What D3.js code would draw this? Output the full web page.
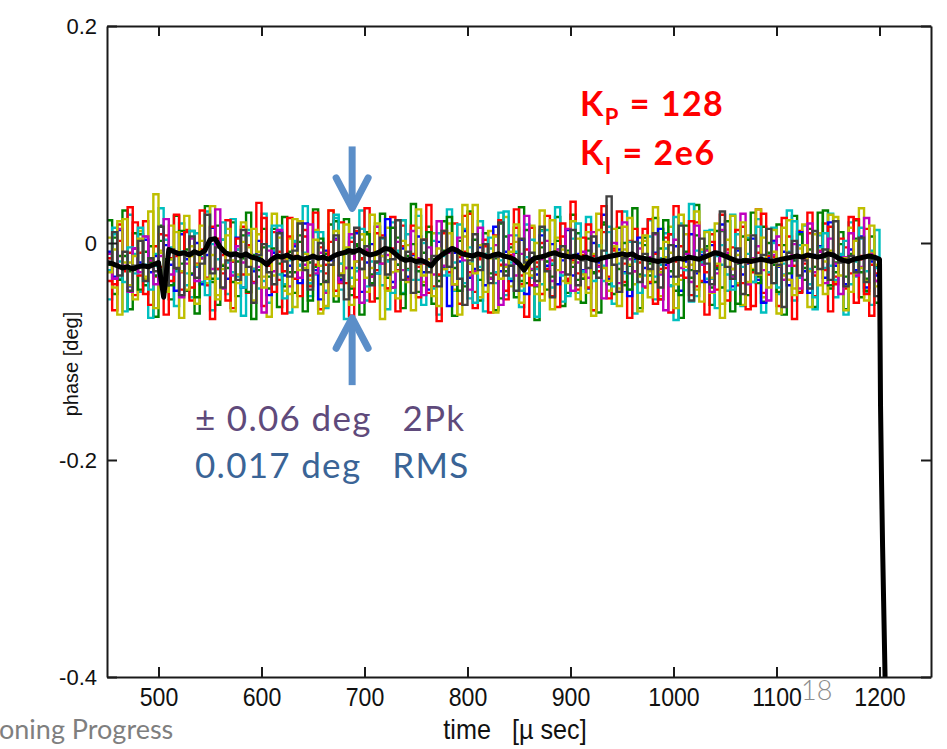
<!DOCTYPE html>
<html lang="en">
<head>
<meta charset="utf-8">
<title>Phase noise</title>
<script src="https://d3js.org/d3.v7.min.js"></script>
<style>
  body { margin: 0; background: #fff; }
  .axis path, .axis line { stroke: #1a1a1a; stroke-width: 2; }
  .axis text { font-family: "Liberation Sans", Arial, sans-serif; fill: #111; }
  .trace { fill: none; stroke-width: 2.4; }
  .mean { fill: none; stroke: #000; stroke-width: 5; stroke-linejoin: round; }
  .note { font-family: Lato, "Open Sans", sans-serif; }
</style>
</head>
<body>
<div id="container"></div>
<script>
const w = 947, h = 749;

// sampling of the traces (µs)
const sampleStart = 450, sampleStep = 5;

const xTicks = [500, 600, 700, 800, 900, 1000, 1100, 1200];
const yTicks = [-0.4, -0.2, 0, 0.2];

// colour of each pulse, in drawing order
const traceColors = ["#008000", "#00bfbf", "#ff0000", "#bfbf00",
                     "#0000ff", "#008000", "#ff0000", "#00bfbf", "#bf00bf", "#bfbf00", "#404040"];

// phase [deg] per pulse, one value every 5 µs from 450 to 1200 µs
const trace1 = [
  -0.008,-0.031,0.012,-0.022,-0.040,-0.005,-0.018,0.003,-0.027,-0.012,-0.035,-0.002,-0.020,-0.044,0.008,
  -0.015,-0.029,0.000,-0.038,-0.011,0.014,-0.024,-0.006,-0.033,-0.017,0.005,-0.041,-0.013,-0.026,0.002,
  -0.019,-0.048,-0.009,0.010,-0.030,-0.021,-0.003,-0.037,0.018,-0.014,-0.025,-0.052,-0.007,-0.016,0.004,
  -0.034,-0.010,-0.023,0.009,-0.045,-0.018,-0.001,-0.028,-0.012,0.022,-0.036,-0.020,-0.005,-0.031,-0.011,
  0.006,-0.027,-0.043,-0.015,0.001,-0.022,-0.058,-0.009,-0.017,0.011,-0.032,-0.024,-0.004,-0.039,-0.013,
  0.015,-0.026,-0.008,-0.035,-0.019,0.003,-0.047,-0.014,-0.029,0.007,-0.021,-0.001,-0.038,-0.016,0.012,
  -0.030,-0.010,-0.025,-0.042,0.000,-0.018,0.026,-0.033,-0.012,-0.006,-0.027,-0.049,-0.015,0.005,-0.023,
  -0.037,-0.009,0.013,-0.020,-0.031,-0.003,-0.044,-0.017,0.008,-0.028,-0.011,-0.036,-0.002,-0.024,0.017,
  -0.013,-0.040,-0.007,-0.029,-0.019,0.004,-0.034,-0.055,-0.014,0.002,-0.022,-0.008,-0.039,-0.016,0.010,
  -0.026,-0.046,-0.011,-0.003,-0.032,0.019,-0.021,-0.012,-0.038,-0.006,-0.025,0.006,-0.041,-0.017,-0.030,
  -0.064
];
const trace2 = [
  -0.020,0.005,-0.034,-0.012,-0.026,0.009,-0.043,-0.008,-0.018,-0.030,0.002,-0.015,-0.039,-0.024,0.011,
  -0.006,-0.028,-0.050,-0.014,-0.002,-0.033,0.016,-0.021,-0.009,-0.036,-0.017,0.007,-0.045,-0.011,-0.025,
  -0.004,-0.031,0.013,-0.019,-0.040,-0.008,-0.027,0.001,-0.016,-0.053,-0.022,0.004,-0.035,-0.013,0.020,
  -0.029,-0.010,-0.042,-0.003,-0.024,0.008,-0.037,-0.018,-0.006,-0.032,0.014,-0.020,-0.047,-0.012,-0.001,
  -0.026,-0.039,0.010,-0.015,-0.030,-0.007,0.024,-0.023,-0.044,-0.011,-0.019,0.003,-0.034,-0.002,-0.028,
  -0.014,-0.051,0.006,-0.021,-0.009,-0.035,0.012,-0.025,-0.040,-0.004,-0.017,-0.031,0.002,-0.012,-0.046,
  -0.022,0.009,-0.033,-0.007,-0.027,-0.016,0.017,-0.038,-0.010,-0.024,0.000,-0.043,-0.013,-0.029,0.005,
  -0.019,-0.036,-0.005,0.021,-0.026,-0.014,-0.048,-0.008,-0.032,0.007,-0.018,-0.003,-0.041,-0.023,0.011,
  -0.011,-0.030,-0.056,-0.015,0.003,-0.025,-0.037,0.015,-0.009,-0.020,-0.045,-0.002,-0.028,-0.016,0.008,
  -0.034,-0.006,-0.022,0.028,-0.013,-0.039,-0.018,-0.001,-0.031,-0.010,0.004,-0.027,-0.044,-0.012,-0.021,
  -0.052
];
const trace3 = [
  -0.014,-0.038,0.002,-0.025,-0.009,0.019,-0.030,-0.047,-0.016,-0.003,-0.022,0.007,-0.035,-0.012,-0.027,
  0.010,-0.041,-0.019,-0.006,-0.032,0.015,-0.024,-0.011,-0.053,-0.017,0.004,-0.029,-0.002,-0.036,-0.013,
  0.023,-0.021,-0.045,-0.008,-0.026,0.006,-0.033,-0.015,0.012,-0.040,-0.020,-0.004,-0.028,0.030,-0.011,
  -0.037,-0.023,0.001,-0.050,-0.014,-0.007,-0.031,0.009,-0.019,-0.042,-0.005,-0.025,0.016,-0.034,-0.010,
  -0.022,0.003,-0.046,-0.017,-0.029,0.011,-0.008,-0.038,-0.013,0.025,-0.027,-0.060,-0.015,-0.003,-0.033,
  0.007,-0.020,-0.044,-0.011,0.014,-0.030,-0.006,-0.039,-0.018,0.000,-0.024,-0.049,-0.009,0.018,-0.035,
  -0.016,-0.028,0.005,-0.041,-0.012,-0.021,0.034,-0.031,-0.007,-0.045,-0.019,0.002,-0.026,-0.014,0.013,
  -0.036,-0.010,-0.052,-0.023,0.008,-0.017,-0.003,-0.032,0.020,-0.040,-0.015,-0.027,0.001,-0.043,-0.011,
  -0.006,-0.024,0.012,-0.037,-0.018,-0.058,-0.009,0.027,-0.029,-0.013,-0.002,-0.034,0.006,-0.021,-0.046,
  -0.015,0.009,-0.030,-0.008,-0.025,0.015,-0.038,-0.017,-0.004,-0.028,0.022,-0.012,-0.047,-0.020,-0.035,
  -0.066
];
const trace4 = [
  -0.025,0.008,-0.017,-0.036,-0.004,-0.028,0.014,-0.020,-0.043,-0.010,-0.031,0.003,-0.015,-0.026,-0.008,
  -0.039,0.011,-0.022,-0.013,-0.048,-0.001,-0.033,0.019,-0.018,-0.027,-0.006,-0.041,0.007,-0.024,-0.012,
  -0.035,-0.003,0.016,-0.029,-0.051,-0.016,0.002,-0.021,-0.009,-0.037,0.010,-0.026,-0.044,-0.014,0.026,
  -0.019,-0.005,-0.032,-0.023,0.013,-0.040,-0.011,-0.028,0.004,-0.017,-0.046,-0.007,0.021,-0.025,-0.015,
  -0.034,0.000,-0.020,-0.042,0.009,-0.012,-0.030,-0.018,0.017,-0.037,-0.004,-0.055,-0.022,-0.010,0.005,
  -0.027,-0.016,0.029,-0.033,-0.008,-0.044,-0.013,0.003,-0.024,-0.038,0.012,-0.019,-0.006,-0.030,-0.049,
  -0.011,0.018,-0.026,-0.015,-0.035,-0.002,-0.021,0.010,-0.040,-0.009,-0.028,0.001,-0.017,-0.046,-0.013,
  0.006,-0.031,-0.020,-0.005,-0.039,0.024,-0.014,-0.025,-0.054,-0.007,-0.018,0.011,-0.033,-0.012,-0.002,
  -0.029,-0.043,0.008,-0.022,-0.010,-0.036,0.015,-0.016,-0.027,0.000,-0.041,-0.019,-0.008,0.020,-0.032,
  -0.013,-0.024,-0.050,-0.004,0.009,-0.021,-0.034,-0.011,0.002,-0.038,-0.017,0.014,-0.026,-0.007,-0.023,
  -0.058
];
const trace5 = [
  -0.010,-0.033,0.013,-0.021,-0.045,-0.005,-0.027,0.006,-0.016,-0.038,-0.012,0.022,-0.029,-0.008,-0.050,
  -0.019,0.004,-0.035,-0.014,0.000,-0.024,0.031,-0.042,-0.011,-0.030,-0.003,-0.018,0.009,-0.037,-0.022,
  -0.064,-0.007,-0.026,0.012,-0.015,-0.040,-0.001,-0.032,-0.020,0.017,-0.028,-0.009,-0.046,-0.013,0.003,
  -0.036,-0.023,0.008,-0.017,-0.055,-0.006,-0.031,0.015,-0.019,-0.011,-0.041,0.001,-0.025,-0.034,0.011,
  -0.014,-0.048,-0.004,-0.029,0.020,-0.021,-0.009,-0.038,0.005,-0.016,-0.043,-0.026,0.014,-0.012,-0.033,
  -0.002,-0.057,-0.020,0.007,-0.030,-0.010,0.025,-0.024,-0.039,-0.015,0.002,-0.035,-0.006,-0.027,0.013,
  -0.044,-0.018,-0.008,-0.032,0.010,-0.022,-0.051,-0.012,0.000,-0.037,0.019,-0.015,-0.026,-0.005,-0.040,
  -0.013,0.008,-0.029,-0.062,-0.017,0.003,-0.023,-0.010,-0.036,0.016,-0.020,-0.007,-0.045,-0.028,0.012,
  -0.009,-0.031,-0.018,0.027,-0.038,-0.014,-0.003,-0.025,-0.053,-0.011,0.006,-0.034,-0.021,-0.001,-0.042,
  -0.016,0.018,-0.027,-0.008,-0.037,0.004,-0.019,-0.047,-0.013,0.009,-0.030,-0.022,0.023,-0.010,-0.035,
  -0.060
];
const trace6 = [
  -0.027,-0.006,0.020,-0.018,-0.039,-0.012,0.004,-0.031,-0.022,0.045,-0.009,-0.035,-0.015,0.010,-0.026,
  -0.043,-0.003,-0.020,0.016,-0.033,-0.011,-0.052,-0.024,0.007,-0.016,-0.037,0.001,-0.029,0.013,-0.008,
  -0.041,-0.019,-0.030,0.005,-0.014,-0.047,0.022,-0.025,-0.010,-0.034,0.003,-0.021,-0.058,-0.013,0.011,
  -0.028,-0.004,-0.040,-0.017,0.008,-0.032,-0.023,0.018,-0.012,-0.044,-0.007,-0.026,0.002,-0.036,-0.015,
  0.014,-0.030,-0.020,-0.049,-0.005,-0.024,0.009,-0.038,-0.011,0.035,-0.019,-0.028,-0.002,-0.045,-0.014,
  0.006,-0.033,-0.022,-0.008,0.017,-0.040,-0.016,-0.030,0.000,-0.053,-0.012,0.021,-0.025,-0.006,-0.037,
  -0.018,0.004,-0.029,-0.046,-0.010,0.012,-0.023,-0.035,-0.003,-0.042,0.015,-0.020,-0.013,-0.031,0.007,
  -0.050,-0.017,-0.027,0.001,-0.009,-0.038,0.026,-0.022,-0.014,-0.043,-0.006,0.010,-0.032,-0.019,-0.056,
  0.003,-0.024,-0.011,0.019,-0.036,-0.015,-0.029,0.005,-0.041,-0.008,-0.021,0.014,-0.034,-0.048,-0.012,
  -0.002,-0.026,0.008,-0.039,-0.017,-0.007,0.024,-0.030,-0.014,-0.045,0.002,-0.023,-0.035,0.016,-0.020,
  -0.070
];
const trace7 = [
  -0.018,0.010,-0.030,-0.008,-0.044,-0.021,0.002,-0.035,-0.014,-0.026,0.015,-0.039,-0.006,-0.023,-0.048,
  -0.012,0.006,-0.032,-0.019,0.026,-0.028,-0.004,-0.041,-0.016,-0.009,-0.034,0.012,-0.022,-0.055,-0.011,
  -0.001,-0.027,-0.038,0.009,-0.017,-0.031,-0.007,0.018,-0.025,-0.043,-0.013,0.000,-0.036,-0.020,0.007,
  -0.030,-0.052,-0.010,0.014,-0.024,-0.003,-0.039,-0.017,0.005,-0.029,-0.015,0.021,-0.034,-0.008,-0.046,
  -0.019,0.003,-0.027,-0.012,-0.040,0.011,-0.022,-0.006,-0.033,-0.057,-0.016,0.008,-0.025,-0.001,-0.037,
  -0.013,0.019,-0.030,-0.021,-0.044,0.004,-0.018,-0.009,-0.035,0.015,-0.026,-0.050,-0.011,-0.003,-0.029,
  0.012,-0.039,-0.016,-0.023,0.006,-0.032,-0.007,0.043,-0.020,-0.045,-0.014,-0.028,0.001,-0.036,-0.010,
  -0.024,0.009,-0.041,-0.017,-0.002,-0.031,0.016,-0.013,-0.053,-0.026,0.004,-0.019,-0.038,-0.008,0.029,
  -0.022,-0.033,-0.005,-0.047,-0.015,0.007,-0.028,-0.011,0.013,-0.037,-0.020,-0.059,-0.009,0.002,-0.030,
  -0.016,-0.042,0.011,-0.024,-0.006,-0.034,0.020,-0.018,-0.040,-0.012,-0.027,0.005,-0.036,-0.015,-0.049,
  -0.062
];
const trace8 = [
  0.021,-0.047,-0.012,0.030,-0.061,-0.025,0.008,-0.039,-0.003,-0.068,0.016,-0.030,-0.052,0.025,-0.019,
  -0.044,0.011,-0.065,-0.008,0.034,-0.036,-0.057,0.003,-0.023,0.019,-0.049,-0.014,0.028,-0.070,-0.031,
  0.013,-0.042,-0.005,-0.059,0.024,-0.027,-0.046,0.007,-0.063,-0.018,0.031,-0.038,-0.010,0.017,-0.054,
  -0.033,0.022,-0.048,-0.001,-0.066,0.010,-0.029,-0.051,0.027,-0.016,-0.041,0.005,-0.060,-0.024,0.036,
  -0.045,-0.009,0.015,-0.056,-0.035,0.020,-0.022,-0.067,0.002,-0.040,0.029,-0.013,-0.053,0.009,-0.032,
  -0.062,0.018,-0.026,-0.004,-0.050,0.033,-0.037,-0.015,-0.071,0.012,-0.043,-0.020,0.024,-0.058,-0.007,
  0.026,-0.034,-0.055,0.004,-0.028,-0.064,0.019,-0.011,-0.047,0.014,-0.039,-0.021,0.032,-0.060,-0.002,
  -0.030,0.023,-0.052,-0.017,0.008,-0.044,-0.069,0.016,-0.025,0.035,-0.036,-0.006,-0.057,0.011,-0.041,
  0.020,-0.063,-0.019,0.006,-0.048,0.028,-0.031,-0.054,0.000,-0.037,0.017,-0.066,-0.014,0.025,-0.045,
  -0.023,0.013,-0.059,-0.008,0.030,-0.042,-0.027,0.010,-0.061,-0.016,0.021,-0.050,-0.033,0.006,-0.055,
  -0.072
];
const trace9 = [
  -0.052,0.014,-0.033,-0.063,0.026,-0.010,-0.045,0.006,-0.069,-0.021,0.032,-0.040,-0.004,-0.058,0.018,
  -0.028,-0.050,0.009,-0.036,0.029,-0.062,-0.015,0.003,-0.047,0.022,-0.031,-0.067,0.012,-0.024,-0.042,
  0.027,-0.055,-0.007,0.016,-0.038,-0.064,0.001,-0.020,0.034,-0.049,-0.029,0.010,-0.060,-0.013,0.023,
  -0.043,-0.070,0.005,-0.026,0.030,-0.053,-0.017,0.015,-0.039,-0.061,0.019,-0.009,-0.046,0.008,-0.034,
  0.025,-0.057,-0.022,0.002,-0.066,-0.030,0.031,-0.044,-0.011,0.013,-0.051,-0.027,0.020,-0.063,-0.005,
  -0.037,0.028,-0.048,-0.018,0.007,-0.059,0.017,-0.032,-0.068,0.011,-0.024,-0.041,0.033,-0.054,-0.012,
  0.004,-0.046,-0.028,0.024,-0.062,-0.003,-0.035,0.015,-0.056,-0.019,0.029,-0.043,-0.065,0.000,-0.030,
  0.021,-0.052,-0.014,0.009,-0.040,-0.071,0.018,-0.025,0.036,-0.049,-0.008,-0.033,0.012,-0.060,-0.020,
  -0.044,0.026,-0.016,-0.058,0.005,-0.036,0.022,-0.064,-0.011,0.014,-0.047,-0.029,0.030,-0.053,-0.002,
  0.016,-0.038,-0.061,0.007,-0.023,0.027,-0.050,-0.010,-0.066,0.019,-0.031,0.004,-0.045,-0.057,0.012,
  -0.068
];
const trace10 = [
  -0.035,-0.062,0.017,-0.026,0.033,-0.048,-0.009,0.020,-0.057,-0.031,0.008,-0.066,-0.014,0.026,-0.043,
  0.012,-0.053,-0.021,0.030,-0.039,-0.070,0.004,-0.028,0.021,-0.060,-0.006,0.015,-0.046,-0.024,0.037,
  -0.058,-0.017,0.010,-0.034,-0.065,0.023,-0.012,-0.049,0.006,-0.030,0.028,-0.061,-0.020,0.001,-0.044,
  0.019,-0.037,-0.067,0.011,-0.015,0.032,-0.054,-0.025,0.007,-0.042,0.024,-0.063,-0.003,-0.032,0.016,
  -0.050,-0.019,0.035,-0.040,-0.072,0.009,-0.027,0.018,-0.056,-0.008,0.027,-0.045,-0.013,0.003,-0.064,
  -0.029,0.021,-0.052,-0.001,0.031,-0.038,-0.068,0.014,-0.022,-0.047,0.025,-0.016,-0.059,0.006,-0.033,
  0.038,-0.043,-0.011,0.017,-0.062,-0.026,0.010,-0.051,-0.005,0.029,-0.036,-0.069,0.013,-0.018,-0.041,
  0.022,-0.056,-0.024,0.005,-0.064,0.034,-0.030,-0.010,-0.048,0.019,-0.035,-0.066,0.008,-0.021,0.026,
  -0.053,-0.004,-0.039,0.015,-0.061,-0.027,0.031,-0.046,-0.012,0.002,-0.058,0.023,-0.034,-0.070,0.011,
  -0.019,0.028,-0.049,-0.007,0.018,-0.063,-0.031,0.004,-0.042,0.024,-0.055,-0.015,0.013,-0.067,-0.028,
  -0.074
];
const trace11 = [
  0.005,-0.041,-0.066,0.022,-0.018,-0.052,0.011,-0.033,0.029,-0.060,-0.007,-0.045,0.016,-0.025,-0.069,
  0.025,-0.012,-0.056,0.002,-0.037,0.034,-0.048,-0.020,0.013,-0.063,-0.029,0.019,-0.004,-0.053,0.008,
  -0.031,-0.068,0.027,-0.014,-0.044,0.004,-0.059,0.020,-0.023,-0.039,0.012,-0.065,-0.008,0.030,-0.049,
  -0.019,0.017,-0.057,-0.034,0.003,-0.045,0.026,-0.011,-0.070,0.014,-0.027,-0.051,0.021,-0.002,-0.062,
  0.031,-0.036,-0.015,0.009,-0.058,-0.024,0.018,-0.043,-0.066,0.006,-0.030,0.035,-0.050,-0.010,0.011,
  -0.064,-0.021,0.024,-0.040,0.001,-0.055,-0.028,0.016,-0.047,0.030,-0.017,-0.061,0.005,-0.035,-0.009,
  0.020,-0.052,-0.032,0.010,-0.067,0.027,-0.022,-0.044,0.013,-0.058,-0.006,0.023,-0.038,-0.063,0.002,
  -0.026,0.033,-0.049,-0.013,0.015,-0.060,-0.034,0.008,-0.020,0.029,-0.054,-0.003,-0.046,0.018,-0.069,
  -0.011,0.025,-0.037,-0.057,0.007,-0.024,0.031,-0.050,-0.016,0.012,-0.065,-0.030,0.021,-0.042,-0.005,
  0.017,-0.059,-0.022,0.009,-0.047,0.026,-0.036,-0.013,-0.062,0.014,-0.028,0.032,-0.053,-0.008,-0.040,
  -0.071
];
const traces = [trace8, trace9, trace10, trace11, trace1, trace2, trace3, trace4, trace5, trace6, trace7];

// average of all pulses, same sampling, then the end of the pulse
const meanPhase = [
  -0.018,-0.019,-0.021,-0.023,-0.022,-0.024,-0.022,-0.021,-0.022,-0.020,-0.018,-0.050,-0.006,-0.008,-0.010,
  -0.009,-0.011,-0.008,-0.010,-0.007,0.003,0.004,-0.004,-0.009,-0.011,-0.010,-0.012,-0.010,-0.013,-0.014,
  -0.016,-0.020,-0.015,-0.012,-0.013,-0.011,-0.014,-0.013,-0.015,-0.014,-0.012,-0.014,-0.013,-0.015,-0.012,
  -0.010,-0.009,-0.007,-0.008,-0.006,-0.009,-0.011,-0.010,-0.008,-0.005,-0.006,-0.010,-0.014,-0.016,-0.015,
  -0.017,-0.016,-0.018,-0.021,-0.015,-0.011,-0.008,-0.005,-0.007,-0.010,-0.011,-0.012,-0.010,-0.011,-0.013,
  -0.011,-0.010,-0.012,-0.013,-0.015,-0.019,-0.025,-0.018,-0.014,-0.013,-0.012,-0.010,-0.009,-0.011,-0.012,
  -0.013,-0.012,-0.014,-0.013,-0.015,-0.016,-0.014,-0.013,-0.012,-0.011,-0.010,-0.011,-0.010,-0.013,-0.014,
  -0.015,-0.016,-0.017,-0.016,-0.017,-0.015,-0.014,-0.015,-0.013,-0.014,-0.015,-0.013,-0.011,-0.009,-0.010,
  -0.012,-0.014,-0.016,-0.017,-0.016,-0.017,-0.016,-0.015,-0.016,-0.017,-0.016,-0.015,-0.014,-0.013,-0.012,
  -0.013,-0.011,-0.012,-0.013,-0.012,-0.010,-0.011,-0.014,-0.016,-0.017,-0.015,-0.014,-0.013,-0.012,-0.013,
  -0.015
];
const dropTime = [1201, 1202, 1203, 1204, 1205, 1206];
const dropPhase = [-0.15, -0.22, -0.28, -0.33, -0.38, -0.43];

const svg = d3.select("#container").append("svg")
    .attr("width", w).attr("height", h)
    .style("display", "block");

const x = d3.scaleLinear().domain([450, 1250]).range([107, 931]);
const y = d3.scaleLinear().domain([-0.4, 0.2]).range([677, 26]);

svg.append("clipPath").attr("id", "plot")
  .append("rect")
    .attr("x", x(450)).attr("y", y(0.2))
    .attr("width", x(1250) - x(450)).attr("height", y(-0.4) - y(0.2));

const plot = svg.append("g").attr("clip-path", "url(#plot)");

const traceLine = d3.line()
    .x((d, i) => x(sampleStart + i * sampleStep))
    .y(d => y(d))
    .curve(d3.curveStepAfter);

plot.selectAll("path.trace")
  .data(traces)
  .enter().append("path")
    .attr("class", "trace")
    .attr("stroke", (d, i) => traceColors[i])
    .attr("d", traceLine);

const meanPoints = meanPhase.map((v, i) => [sampleStart + i * sampleStep, v])
    .concat(dropTime.map((t, i) => [t, dropPhase[i]]));

plot.append("path")
    .attr("class", "mean")
    .attr("d", d3.line().x(d => x(d[0])).y(d => y(d[1]))(meanPoints));

// axes: MATLAB style box with inward ticks
const gx = svg.append("g").attr("class", "axis")
    .attr("transform", `translate(0,${y(-0.4)})`)
    .call(d3.axisBottom(x).tickValues(xTicks).tickSizeInner(-10).tickSizeOuter(0).tickPadding(11)
      .tickFormat(d3.format("d")));
gx.selectAll("text").style("font-size", "26px").attr("transform", "scale(0.89,1)");

const gy = svg.append("g").attr("class", "axis")
    .attr("transform", `translate(${x(450)},0)`)
    .call(d3.axisLeft(y).tickValues(yTicks).tickSizeInner(-10).tickSizeOuter(0).tickPadding(10)
      .tickFormat(d => d === 0 ? "0" : d.toFixed(1)));
gy.selectAll("text").style("font-size", "22px");

svg.append("g").attr("class", "axis")
    .attr("transform", `translate(0,${y(0.2)})`)
    .call(d3.axisTop(x).tickValues(xTicks).tickSizeInner(-10).tickSizeOuter(0).tickFormat(""));

svg.append("g").attr("class", "axis")
    .attr("transform", `translate(${x(1250)},0)`)
    .call(d3.axisRight(y).tickValues(yTicks).tickSizeInner(-10).tickSizeOuter(0).tickFormat(""));

svg.append("text")
    .attr("transform", `translate(515,739) scale(0.9,1)`)
    .attr("text-anchor", "middle")
    .style("font-family", "'Liberation Sans', Arial, sans-serif")
    .style("font-size", "28px")
    .style("white-space", "pre")
    .attr("fill", "#111")
    .text("time   [\u00b5 sec]");

svg.append("text")
    .attr("transform", "translate(78,364) rotate(-90)")
    .attr("text-anchor", "middle")
    .style("font-family", "'Liberation Sans', Arial, sans-serif")
    .style("font-size", "20px")
    .attr("fill", "#111")
    .text("phase [deg]");

// gain annotation
const gains = [["P", "128", 116], ["I", "2e6", 165]];
gains.forEach(g => {
  const t = svg.append("text").attr("class", "note")
      .attr("x", 580).attr("y", g[2])
      .attr("fill", "#ff0000")
      .style("font-size", "34px").style("font-weight", "bold")
      .style("letter-spacing", "1.5px");
  t.append("tspan").text("K");
  t.append("tspan").attr("dy", 9).style("font-size", "22px").text(g[0]);
  t.append("tspan").attr("dy", -9).text(" = " + g[1]);
});

// peak-to-peak arrows
const arrowX = x(688);
const arrows = svg.append("g")
    .attr("fill", "none").attr("stroke", "#5b8ec8").attr("stroke-width", 7);
arrows.append("path").attr("d", `M${arrowX},${y(0.089)}V${y(0.033)}`);
arrows.append("path").attr("stroke-linecap", "round").attr("stroke-linejoin", "round")
    .attr("d", `M${arrowX - 16},${y(0.060)}L${arrowX},${y(0.032)}L${arrowX + 16},${y(0.060)}`);
arrows.append("path").attr("d", `M${arrowX},${y(-0.131)}V${y(-0.070)}`);
arrows.append("path").attr("stroke-linecap", "round").attr("stroke-linejoin", "round")
    .attr("d", `M${arrowX - 16},${y(-0.097)}L${arrowX},${y(-0.069)}L${arrowX + 16},${y(-0.097)}`);

svg.append("text").attr("class", "note")
    .attr("x", 195).attr("y", 431)
    .attr("fill", "#5f4a7b")
    .style("font-size", "35px").style("letter-spacing", "1.3px")
    .style("white-space", "pre")
    .text("\u00b1 0.06 deg   2Pk");

svg.append("text").attr("class", "note")
    .attr("x", 195).attr("y", 478)
    .attr("fill", "#3a6496")
    .style("font-size", "35px").style("letter-spacing", "1.3px")
    .style("white-space", "pre")
    .text("0.017 deg   RMS");

// slide footer
svg.append("text").attr("class", "note")
    .attr("x", 801).attr("y", 700)
    .attr("fill", "#8c8c8c")
    .style("font-size", "27px").style("font-weight", 300)
    .text("18");

svg.append("text").attr("class", "note")
    .attr("x", -1).attr("y", 739)
    .attr("fill", "#7f7f7f")
    .style("font-size", "27px")
    .text("oning Progress");
</script>
</body>
</html>
